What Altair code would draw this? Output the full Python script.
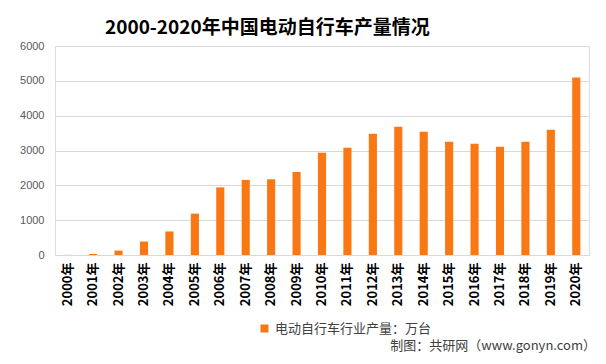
import altair as alt
import pandas as pd

years = [f"{y}年" for y in range(2000, 2021)]
values = [3, 29, 126, 386, 676, 1188, 1942, 2155, 2174, 2386, 2937,
          3081, 3484, 3685, 3541, 3253, 3196, 3109, 3253, 3599, 5096]
series_name = "电动自行车行业产量：万台"
title_text = "2000-2020年中国电动自行车产量情况"
note_text = "制图：共研网（www.gonyn.com）"

df = pd.DataFrame({"year": years, "value": values, "series": series_name})

bars = alt.Chart(df).mark_bar(color="#FA7814").encode(
    x=alt.X("year:N", sort=years, title=None,
            scale=alt.Scale(paddingInner=0.68, paddingOuter=0.34),
            axis=alt.Axis(labelAngle=270, labelFontSize=13, labelFontWeight="bold",
                          labelColor="#000000", labelFont="Noto Sans CJK SC",
                          labelPadding=7, ticks=False, domain=False, grid=False)),
    y=alt.Y("value:Q", title=None,
            scale=alt.Scale(domain=[0, 6000]),
            axis=alt.Axis(values=[0, 1000, 2000, 3000, 4000, 5000, 6000], format="d",
                          labelFontSize=11, labelColor="#595959", labelFont="Liberation Sans",
                          labelPadding=11, ticks=False, domain=False,
                          gridColor="#D9D9D9", gridWidth=1)),
    color=alt.Color("series:N", scale=alt.Scale(range=["#FA7814"]),
                    legend=alt.Legend(title=None, orient="none", legendX=203, legendY=276,
                                      symbolType="square", symbolSize=64,
                                      symbolStrokeWidth=0,
                                      labelFontSize=13, labelColor="#404040",
                                      labelFont="Noto Sans CJK SC")),
)

note_df = pd.DataFrame({"t": [note_text]})
note = alt.Chart(note_df).mark_text(align="right", baseline="middle", fontSize=13,
                                    color="#404040", font="Noto Sans CJK SC").encode(
    text="t:N", x=alt.value(541), y=alt.value(300))

chart = alt.layer(bars, note).properties(
    width=534, height=209,
    title=alt.TitleParams(title_text, anchor="start", frame="group", dx=50, offset=2,
                          fontSize=19, font="Noto Sans CJK SC", fontWeight="bold",
                          color="#000000"),
    autosize=alt.AutoSizeParams(type="none"),
    padding={"left": 47, "top": 38, "right": 8, "bottom": 101},
).configure_view(stroke=None).configure(background="#FFFFFF")

chart.save("out.html", embed_options={"renderer": "svg", "actions": False})
